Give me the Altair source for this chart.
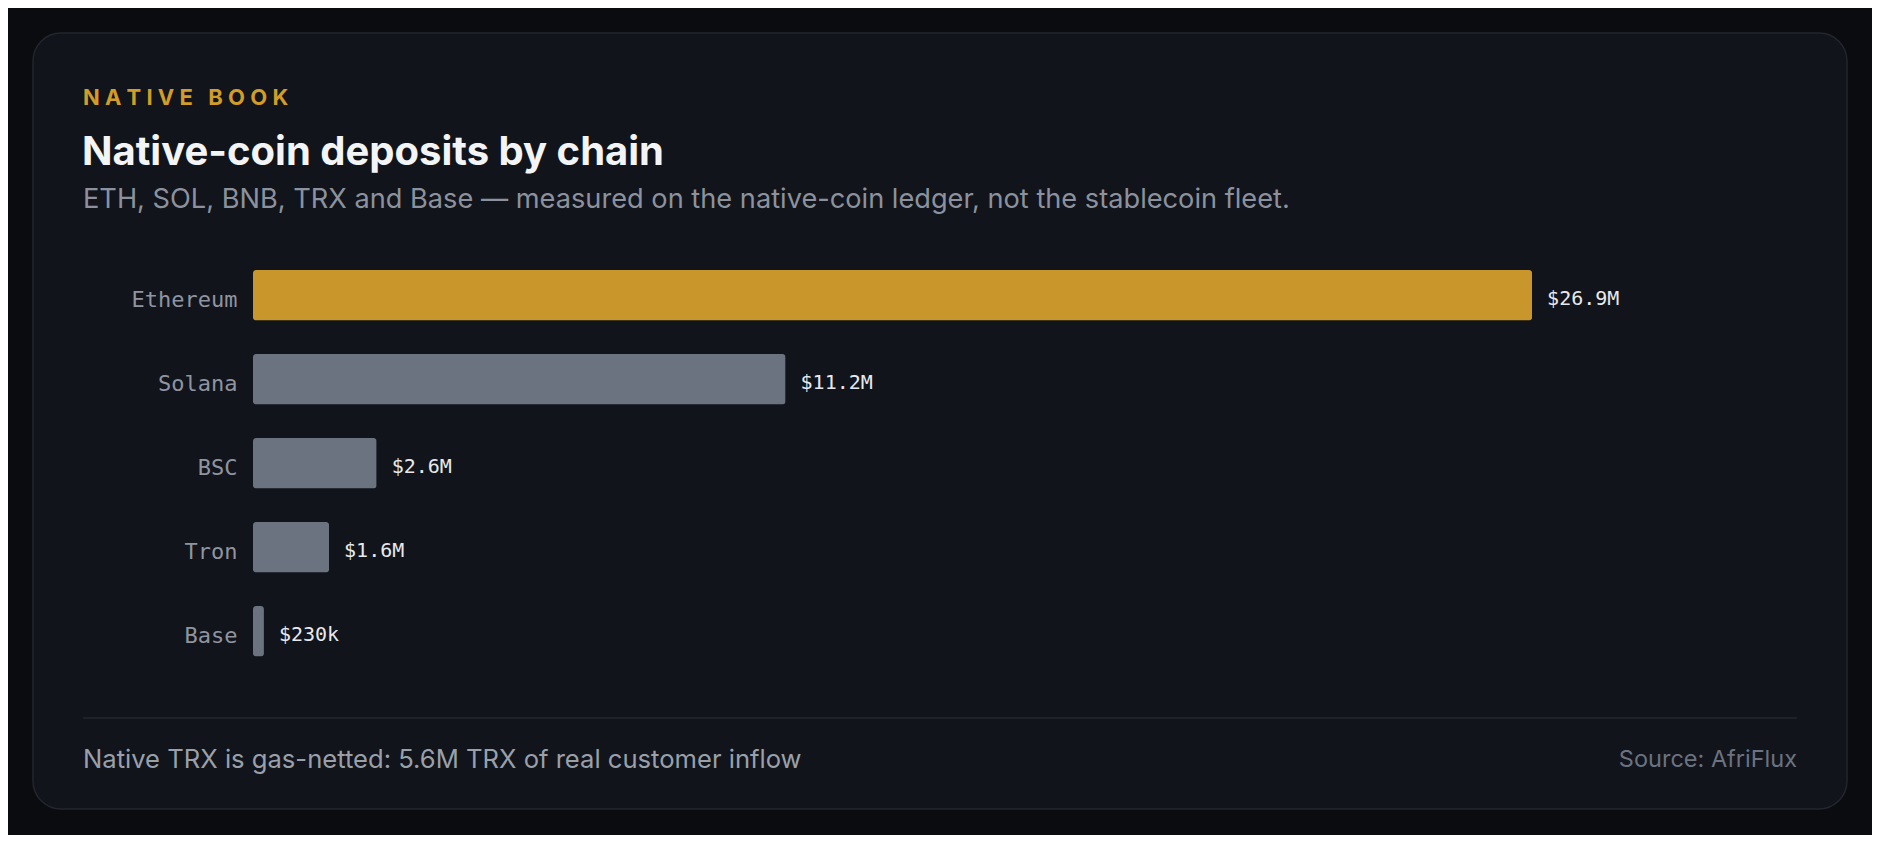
import altair as alt
import pandas as pd

# ---- data ----
chains = ["Ethereum", "Solana", "BSC", "Tron", "Base"]
deposits_musd = [26.9, 11.2, 2.6, 1.6, 0.23]
value_labels = ["$26.9M", "$11.2M", "$2.6M", "$1.6M", "$230k"]
highlight = ["Ethereum", "other", "other", "other", "other"]

eyebrow = "NATIVE BOOK"
title = "Native-coin deposits by chain"
subtitle = "ETH, SOL, BNB, TRX and Base \u2014 measured on the native-coin ledger, not the stablecoin fleet."
footnote = "Native TRX is gas-netted: 5.6M TRX of real customer inflow"
source = "Source: AfriFlux"

df = pd.DataFrame({
    "chain": chains,
    "value": deposits_musd,
    "label": value_labels,
    "group": highlight,
})

PAGE_BG = "#0b0c10"
CARD_BG = "#11141b"
CARD_BORDER = "#23262e"
GOLD = "#c9962b"
GRAY_BAR = "#6b7280"
SANS = "Inter"
MONO = "DejaVu Sans Mono"

W = 1426.5
H = 386.4
one = alt.Data(values=[{"k": 1}])

card = alt.Chart(one).mark_rect(
    fill=CARD_BG, stroke=CARD_BORDER, strokeWidth=1.5, cornerRadius=28
).encode(
    x=alt.value(-220), x2=alt.value(1594), y=alt.value(-237), y2=alt.value(539)
)

divider = alt.Chart(one).mark_rule(color="#23262e", strokeWidth=1.5).encode(
    x=alt.value(-170), x2=alt.value(1544), y=alt.value(448), y2=alt.value(448)
)

def txt(s, x, y, size, color, weight="normal", align="left", font=SANS):
    return alt.Chart(one).mark_text(
        text=s, align=align, baseline="alphabetic", font=font,
        fontSize=size, color=color, fontWeight=weight
    ).encode(x=alt.value(x), y=alt.value(y))

spaced_eyebrow = "\u2009\u200a".join(list(eyebrow))

t_eyebrow = txt(spaced_eyebrow, -170, -165, 22, "#d19c27", weight="bold")
t_title = txt(title, -171, -105, 40, "#f3f4f6", weight="bold")
t_sub = txt(subtitle, -170, -62, 27.2, "#8c929d")
t_foot = txt(footnote, -170, 498, 25.6, "#9aa0aa")
t_src = txt(source, 1544, 497, 23.5, "#6b7280", align="right")

y_enc = alt.Y(
    "chain:N", sort=chains, title=None,
    scale=alt.Scale(paddingInner=0.4, paddingOuter=0),
    axis=alt.Axis(labelFont=MONO, labelFontSize=22, labelColor="#8f95a0",
                  labelPadding=16, labelOffset=5, ticks=False, domain=False,
                  grid=False, zindex=2),
)
x_enc = alt.X("value:Q", title=None, scale=alt.Scale(domain=[0, 30], nice=False),
              axis=None)

bars = alt.Chart(df).mark_bar(cornerRadius=3).encode(
    y=y_enc, x=x_enc,
    color=alt.Color("group:N", scale=alt.Scale(domain=["Ethereum", "other"],
                                                range=[GOLD, GRAY_BAR]), legend=None),
)

labels = alt.Chart(df).mark_text(
    align="left", baseline="middle", dx=15, dy=4, font=MONO, fontSize=20, color="#e8e9ec"
).encode(y=alt.Y("chain:N", sort=chains), x="value:Q", text="label:N")

chart = alt.layer(
    card, divider, t_eyebrow, t_title, t_sub, t_foot, t_src, bars, labels
).properties(
    width=W, height=H,
    autosize=alt.AutoSizeParams(type="none"),
    padding={"left": 245, "top": 262, "right": 1864 - 245 - W, "bottom": 827 - 262 - H},
    background=PAGE_BG,
).configure_view(stroke=None)

chart.save("out.html", embed_options={"renderer": "svg", "actions": False})
